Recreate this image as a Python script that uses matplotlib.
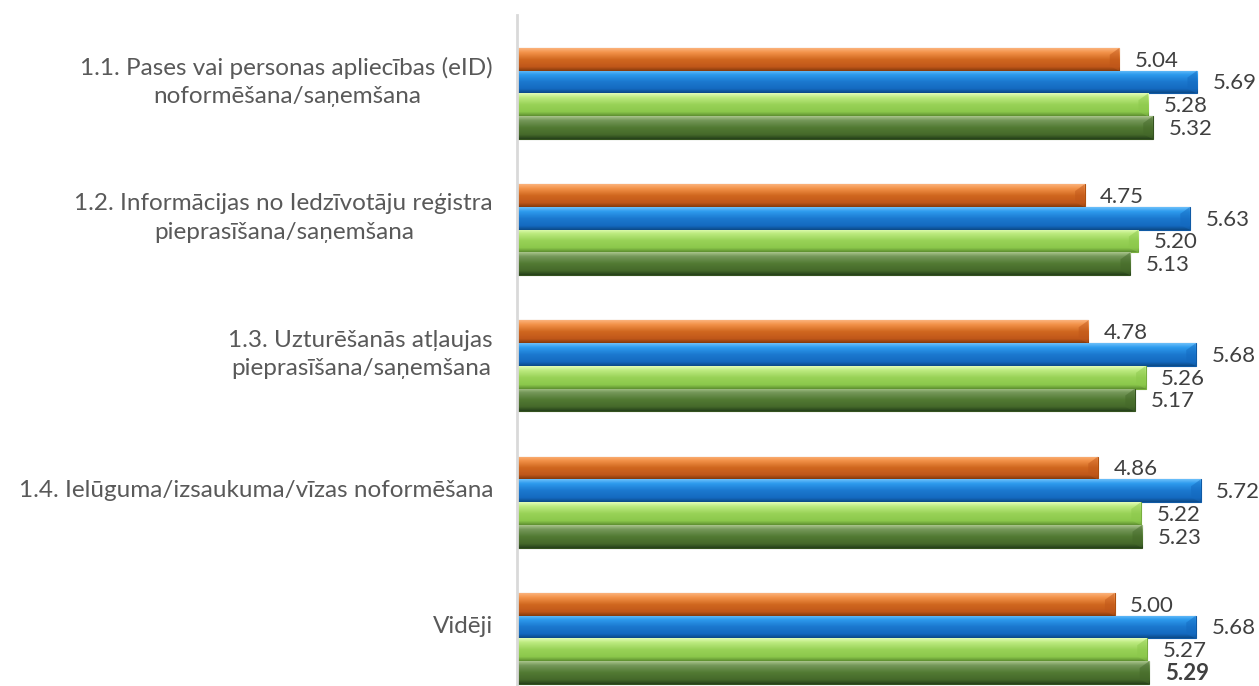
import numpy as np
import matplotlib.pyplot as plt
from matplotlib.colors import LinearSegmentedColormap

categories = [
    '1.1. Pases vai personas apliecības (eID)\nnoformēšana/saņemšana',
    '1.2. Informācijas no Iedzīvotāju reģistra\npieprasīšana/saņemšana',
    '1.3. Uzturēšanās atļaujas\npieprasīšana/saņemšana',
    '1.4. Ielūguma/izsaukuma/vīzas noformēšana',
    'Vidēji',
]
series_orange = [5.04, 4.75, 4.78, 4.86, 5.00]
series_blue = [5.69, 5.63, 5.68, 5.72, 5.68]
series_lightgreen = [5.28, 5.20, 5.26, 5.22, 5.27]
series_darkgreen = [5.32, 5.13, 5.17, 5.23, 5.29]

# top-to-bottom shading for each series (light rim, body, dark base)
shades = [
    ['#FBB27C', '#F3934A', '#D0671F', '#C0571A', '#853A0C'],
    ['#6CC0FA', '#2E9CEE', '#1B78CF', '#146AC0', '#0C4A88'],
    ['#E3FDB8', '#BDEB80', '#98D257', '#8CC84C', '#5E8F30'],
    ['#A9C48C', '#75985A', '#527A33', '#45692A', '#25401A'],
]
edges = ['#B0500F', '#0F5AA5', '#78AE3F', '#34521F']

fig = plt.figure(figsize=(12.59, 6.86), dpi=100)
ax = fig.add_axes([517 / 1259, 0, (1246 - 517) / 1259, 671 / 686])

bar_h = 0.167
offsets = [-1.5, -0.5, 0.5, 1.5]
all_series = [series_orange, series_blue, series_lightgreen, series_darkgreen]
y = np.arange(len(categories))

for k, (vals, shade, edge) in enumerate(zip(all_series, shades, edges)):
    cmap = LinearSegmentedColormap.from_list(f's{k}', list(zip([0, 0.18, 0.5, 0.82, 1.0], shade)))
    grad = np.linspace(0, 1, 64).reshape(-1, 1)
    bars = ax.barh(y + offsets[k] * bar_h, vals, height=bar_h, color=shade[2],
                   edgecolor=edge, linewidth=0.8, zorder=2)
    for bar, v in zip(bars, vals):
        yc = bar.get_y() + bar.get_height() / 2
        im = ax.imshow(grad, cmap=cmap, aspect='auto', origin='upper',
                       extent=[0, v, yc + bar_h / 2, yc - bar_h / 2], zorder=2.5)
        im.set_clip_path(bar)
        # bevel at the bar's right end
        ax.fill([v - 0.08, v, v, v - 0.08], [yc - bar_h * 0.2, yc - bar_h / 2, yc + bar_h / 2, yc + bar_h * 0.3],
                color=shade[3], alpha=0.5, lw=0, zorder=2.6)
        weight = 'bold' if (k == 3 and bar is bars[-1]) else 'normal'
        ax.text(v + 0.13, yc + 0.01, f'{v:.2f}', va='center', ha='left',
                fontsize=16, family='Lato', color='#404040', fontweight=weight, zorder=3)

for i, label in enumerate(categories):
    ax.text(-0.2, i - 0.085, label, ha='right', va='center', multialignment='center',
            fontsize=17.5, family='Lato', color='#595959', linespacing=1.45)

ax.set_xlim(0, 6.1)
ax.set_ylim(4.349, -0.576)
ax.set_xticks([])
ax.set_yticks([])
for side in ['top', 'right', 'bottom']:
    ax.spines[side].set_visible(False)
ax.spines['left'].set_color('#D9D9D9')
ax.spines['left'].set_linewidth(2)

fig.savefig('out.png', dpi=100)
